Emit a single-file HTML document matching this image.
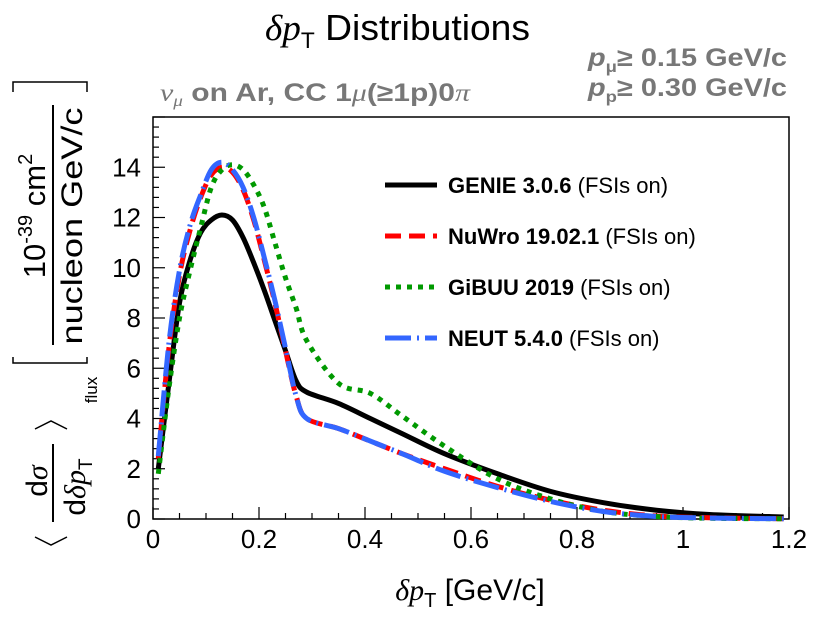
<!DOCTYPE html>
<html><head><meta charset="utf-8"><style>
body{margin:0;background:#fff}
svg{display:block;font-family:"Liberation Sans",sans-serif}
</style></head><body>
<svg id="c" width="830" height="623">
<text x="265" y="40" font-size="36" textLength="265" lengthAdjust="spacingAndGlyphs"><tspan font-family="Liberation Serif" font-style="italic">δp</tspan><tspan font-size="22" dy="8">T</tspan><tspan dy="-8"> Distributions</tspan></text>
<text x="160" y="101" font-size="25" textLength="310" lengthAdjust="spacingAndGlyphs" font-weight="bold" fill="#777"><tspan font-family="Liberation Serif" font-style="italic" font-weight="normal">ν</tspan><tspan font-size="16" dy="5" font-family="Liberation Serif" font-style="italic" font-weight="normal">μ</tspan><tspan dy="-5"> on Ar, CC 1</tspan><tspan font-family="Liberation Serif" font-style="italic" font-weight="normal">μ</tspan><tspan>(≥1p)0</tspan><tspan font-family="Liberation Serif" font-style="italic" font-weight="normal">π</tspan></text>
<text x="588" y="66" font-size="25" textLength="199" lengthAdjust="spacingAndGlyphs" font-weight="bold" fill="#777"><tspan font-style="italic">p</tspan><tspan font-size="16" dy="6">μ</tspan><tspan dy="-6">≥ 0.15 GeV/c</tspan></text>
<text x="588" y="96" font-size="25" textLength="199" lengthAdjust="spacingAndGlyphs" font-weight="bold" fill="#777"><tspan font-style="italic">p</tspan><tspan font-size="16" dy="6">p</tspan><tspan dy="-6">≥ 0.30 GeV/c</tspan></text>
<g fill="none" stroke="#000" stroke-width="1.5">
<polyline points="35,537 51,545 67,537"/>
<polyline points="35,429 51,421 67,429"/>
<line x1="53" x2="53" y1="444" y2="522" stroke-width="2"/>
<line x1="53" x2="53" y1="105" y2="345" stroke-width="2"/>
<polyline points="13,357 13,363 87,363 87,357"/>
<polyline points="13,92 13,82 87,82 87,92"/>
</g>
<g transform="translate(0,623) rotate(-90)" font-size="30">
<text x="142" y="47" text-anchor="middle">d<tspan font-family="Liberation Serif" font-style="italic">σ</tspan></text>
<text x="136" y="85" text-anchor="middle">d<tspan font-family="Liberation Serif" font-style="italic">δp</tspan><tspan font-size="19" dy="7">T</tspan></text>
<text x="233" y="97" text-anchor="middle" font-size="17">flux</text>
<text x="407" y="45" text-anchor="middle" font-size="31">10<tspan font-size="20" dy="-13">-39</tspan><tspan dy="13"> cm</tspan><tspan font-size="20" dy="-13">2</tspan></text>
<text x="397" y="82" text-anchor="middle" textLength="237" lengthAdjust="spacingAndGlyphs">nucleon GeV/c</text>
</g>
<text x="470" y="600" text-anchor="middle" font-size="30"><tspan font-family="Liberation Serif" font-style="italic">δp</tspan><tspan font-size="20" dy="7">T</tspan><tspan dy="-7"> [GeV/c]</tspan></text>
<g id="plot"></g>
</svg>
<script>
const xs=[0.01,0.03,0.05,0.07,0.09,0.11,0.13,0.15,0.17,0.19,0.21,0.23,0.25,0.27,0.29,0.35,0.41,0.47,0.55,0.65,0.75,0.85,0.95,1.05,1.19];
const genie=[2.0,5.4,8.6,10.3,11.4,11.9,12.1,11.9,11.2,10.2,9.1,7.9,6.7,5.5,5.05,4.6,4.0,3.4,2.6,1.8,1.1,0.65,0.35,0.18,0.08];
const nuwro=[2.4,6.8,9.7,11.5,12.8,13.7,14.0,13.8,13.1,11.9,10.3,8.6,6.7,4.9,4.0,3.6,3.1,2.6,2.0,1.3,0.75,0.35,0.12,0.05,0.01];
const gibuu=[1.8,5.2,8.0,9.9,11.6,13.2,13.9,14.1,13.9,13.3,12.4,11.0,9.6,8.4,7.1,5.4,5.0,4.1,2.9,1.6,0.8,0.3,0.1,0.03,0.01];
const neut=[2.5,7.0,9.9,11.7,12.9,13.9,14.2,13.9,13.2,12.0,10.4,8.7,6.8,4.9,4.0,3.6,3.1,2.6,1.9,1.25,0.7,0.3,0.1,0.04,0.01];
const xTicks=[0,0.2,0.4,0.6,0.8,1,1.2];
const yTicks=[0,2,4,6,8,10,12,14];
const legendNames=["GENIE 3.0.6","NuWro 19.02.1","GiBUU 2019","NEUT 5.4.0"];
const NS="http://www.w3.org/2000/svg";
const L=153,R=789,T=117,B=519,XMAX=1.2,YMAX=16;
const X=v=>L+v/XMAX*(R-L), Y=v=>B-v/YMAX*(B-T);
const g=document.getElementById('plot');
function mk(t,a){const e=document.createElementNS(NS,t);for(const k in a)e.setAttribute(k,a[k]);g.appendChild(e);return e;}
let e=mk('rect',{x:L,y:T,width:R-L,height:B-T,fill:'none',stroke:'#000','stroke-width':1.5});


for(let v=0;v<=XMAX+1e-9;v+=0.05){const maj=Math.abs(v/0.2-Math.round(v/0.2))<1e-6;
 e=mk('line',{x1:X(v),x2:X(v),y1:B,y2:B-(maj?12:6),stroke:'#000','stroke-width':1.2});
 
 }
for(let v=0;v<=YMAX+1e-9;v+=0.4){const maj=Math.abs(v/2-Math.round(v/2))<1e-6;
 e=mk('line',{x1:L,x2:L+(maj?12:6),y1:Y(v),y2:Y(v),stroke:'#000','stroke-width':1.2});
 
 }
xTicks.forEach(v=>{e=mk('text',{x:X(v),y:548,'text-anchor':'middle','font-size':26});e.textContent=String(v);
 
 });
yTicks.forEach(v=>{e=mk('text',{x:141,y:Y(v)+9,'text-anchor':'end','font-size':26});e.textContent=String(v);
 
 });
const series=[[genie,'#000','none','genie'],[nuwro,'#f00','16 8','nuwro'],[gibuu,'#090','5 6','gibuu'],[neut,'#36f','26 6 2 6','neut']];
function smooth(arr){let p=xs.map((x,i)=>[X(x),Y(arr[i])]);let d='M'+p[0];
 for(let i=0;i<p.length-1;i++){const p0=p[i-1]||p[i],p1=p[i],p2=p[i+1],p3=p[i+2]||p2;
  const c1=[p1[0]+(p2[0]-p0[0])/6,p1[1]+(p2[1]-p0[1])/6],c2=[p2[0]-(p3[0]-p1[0])/6,p2[1]-(p3[1]-p1[1])/6];
  d+=' C'+c1+' '+c2+' '+p2;}return d;}
series.forEach(([arr,col,dash,nm],i)=>{
 e=mk('path',{d:smooth(arr),fill:'none',stroke:col,'stroke-width':5,'stroke-dasharray':dash});
 
 
 const ly=185+i*51;
 e=mk('line',{x1:385,x2:437,y1:ly,y2:ly,stroke:col,'stroke-width':5,'stroke-dasharray':dash});
 
 
 e=mk('text',{x:448,y:ly+8,'font-size':22});
 e.innerHTML='<tspan font-weight="bold">'+legendNames[i]+'</tspan> (FSIs on)';
 
 
});
</script>
</body></html>
